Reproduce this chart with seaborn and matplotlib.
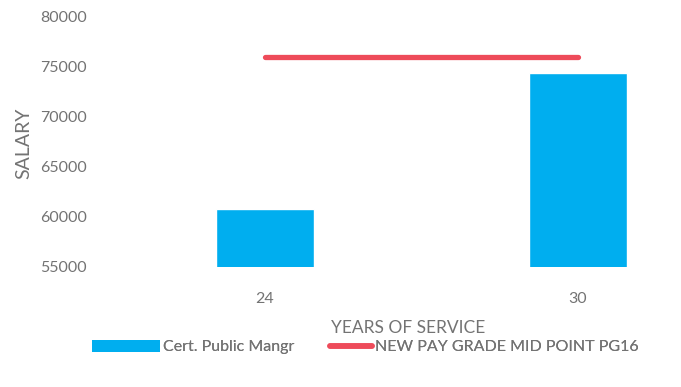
import numpy as np
import pandas as pd
import matplotlib
matplotlib.use("Agg")
import matplotlib.pyplot as plt
from matplotlib.patches import Patch
from matplotlib.lines import Line2D
import seaborn as sns

# Salary by years of service
years = ["24", "30"]
salary = [60800, 74400]
midpoint = [76000, 76000]
bar_label = "Cert. Public Mangr"
line_label = "NEW PAY GRADE MID POINT PG16"
y_ticks = [55000, 60000, 65000, 70000, 75000, 80000]

sns.set_theme(style="white")
plt.rcParams["font.family"] = ["Lato", "DejaVu Sans"]

TEXT = "#737373"
BLUE = "#00AEEF"
RED = "#EE4B5A"

fig = plt.figure(figsize=(6.81, 3.87), dpi=100)
ax = fig.add_axes([95 / 681, 1 - 267 / 387, 1 - 95 / 681, 250 / 387])

df = pd.DataFrame({"years": years, "salary": salary})
sns.barplot(data=df, x="years", y="salary", color=BLUE, saturation=1,
            width=0.313, ax=ax, zorder=2)
sns.lineplot(x=np.arange(len(years)), y=midpoint, color=RED, linewidth=3.8,
             ax=ax, zorder=3, solid_capstyle="round")

ax.set_ylim(y_ticks[0], y_ticks[-1])
ax.set_yticks(y_ticks)
ax.set_xlim(-0.5416, 1.3287)
for s in ax.spines.values():
    s.set_visible(False)
ax.tick_params(axis="both", length=0, colors=TEXT, labelsize=11.5)
ax.tick_params(axis="y", pad=6)
ax.tick_params(axis="x", pad=18)

ax.set_xlabel("YEARS OF SERVICE", color=TEXT, fontsize=12.5)
ax.set_ylabel("SALARY", color=TEXT, fontsize=14)
ax.xaxis.set_label_coords((408 - 95) / 586, -53 / 250)
ax.yaxis.set_label_coords(-63 / 586, (267 - 143) / 250)

# Legend entries placed side by side below the axes
fs = 11.5
em = fs * 100 / 72
entries = [
    (Patch(facecolor=BLUE, edgecolor="none"), bar_label, 92, 68),
    (Line2D([0], [0], color=RED, linewidth=4, solid_capstyle="round"), line_label, 330, 42),
]
for handle, label, x0, hw in entries:
    leg = fig.legend([handle], [label], loc="center left",
                     bbox_to_anchor=(x0 / 681, 1 - 347 / 387), frameon=False,
                     borderpad=0, borderaxespad=0,
                     handlelength=hw / em, handleheight=0.8, handletextpad=0.2,
                     prop={"size": fs})
    for t in leg.get_texts():
        t.set_color(TEXT)
    fig.add_artist(leg)

fig.savefig("out.png", dpi=100)
